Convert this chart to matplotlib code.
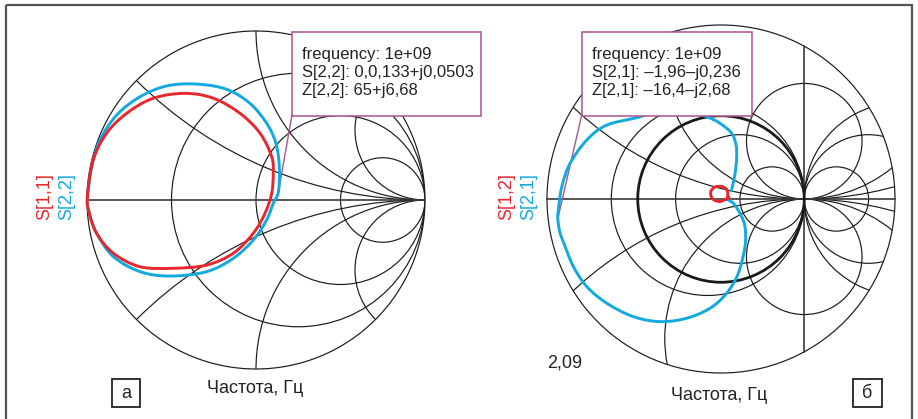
import numpy as np
import matplotlib
matplotlib.use("Agg")
import matplotlib.pyplot as plt
from matplotlib.patches import Circle, Rectangle, PathPatch
from matplotlib.path import Path

plt.rcParams['font.family'] = ['Liberation Sans', 'DejaVu Sans']

# ---- data: reflection / transmission loci (real, imag) ----
s11_re = [-0.998, -0.963, -0.884, -0.765, -0.608, -0.420, -0.252, -0.095, 0.024, 0.093,
          0.102, 0.093, 0.053, -0.016, -0.134, -0.292, -0.489, -0.686, -0.844, -0.943,
          -0.986]
s11_im = [0.020, 0.237, 0.395, 0.513, 0.602, 0.631, 0.602, 0.513, 0.395, 0.256,
          0.158, 0.040, -0.079, -0.197, -0.315, -0.385, -0.404, -0.395, -0.315, -0.197,
          -0.079]

s22_re = [-0.998, -0.972, -0.923, -0.824, -0.686, -0.528, -0.351, -0.174, -0.036, 0.063,
          0.118, 0.138, 0.133, 0.102, 0.063, -0.016, -0.134, -0.292, -0.509, -0.686,
          -0.844, -0.943, -0.986]
s22_im = [0.000, 0.197, 0.355, 0.503, 0.611, 0.675, 0.686, 0.655, 0.572, 0.454,
          0.335, 0.197, 0.050, -0.020, -0.118, -0.237, -0.345, -0.424, -0.450, -0.424,
          -0.335, -0.197, -0.079]

s21_re = [0.125, 0.168, 0.188, 0.180, 0.128, -0.012, -0.172, -0.450, -0.700, -0.972,
          -1.372, -1.612, -1.813, -1.912, -1.950, -1.960, -1.935, -1.880, -1.773, -1.612,
          -1.372, -1.053, -0.732, -0.412, -0.132, 0.068, 0.208, 0.288, 0.288, 0.228,
          0.148, 0.068]
s21_im = [0.100, 0.300, 0.500, 0.650, 0.789, 0.909, 0.988, 1.070, 1.100, 0.988,
          0.888, 0.708, 0.428, 0.148, -0.100, -0.236, -0.400, -0.550, -0.812, -1.052,
          -1.252, -1.413, -1.473, -1.432, -1.312, -1.132, -0.892, -0.572, -0.332, -0.172,
          -0.052, -0.004]

s12_re = [0.084, 0.072, 0.012, -0.072, -0.120, -0.120, -0.084, -0.012, 0.048, 0.096]
s12_im = [0.024, 0.108, 0.150, 0.144, 0.096, 0.036, -0.012, -0.030, -0.006, 0.012]

# marker readouts at 1 GHz
marker_s22 = (0.133, 0.0503)
marker_s21 = (-1.96, -0.236)
marker_text_left = ["frequency: 1e+09", "S[2,2]: 0,0,133+j0,0503", "Z[2,2]: 65+j6,68"]
marker_text_right = ["frequency: 1e+09", "S[2,1]: \u20131,96\u2013j0,236", "Z[2,1]: \u201316,4\u2013j2,68"]

# chart radius limits
limit_left = 1.0
limit_right = 2.09
limit_label = "2,09"
x_label = "Частота, Гц"

RED = '#e8262d'
BLUE = '#12a8e0'
PURPLE = '#a8538f'
GRID = '#1a1a1a'

W, H = 918, 419
fig = plt.figure(figsize=(W / 100, H / 100), dpi=100)


def chart_axes(cx, cy, scale, x0, x1):
    ax = fig.add_axes([x0 / W, 0, (x1 - x0) / W, 1])
    ax.set_xlim((x0 - cx) / scale, (x1 - cx) / scale)
    ax.set_ylim((cy - H) / scale, cy / scale)
    ax.axis('off')
    return ax


def smooth_trace(ax, re, im, closed, **kw):
    """Draw a locus as a smooth Bezier path passing through every sample."""
    p = np.column_stack([re, im]).astype(float)
    n = len(p)
    if closed:
        ext = np.vstack([p[-1:], p, p[:2]])
        segs = n
    else:
        ext = np.vstack([p[:1], p, p[-1:]])
        segs = n - 1
    verts = [ext[1]]
    codes = [Path.MOVETO]
    for i in range(1, segs + 1):
        a, b, c, d = ext[i - 1], ext[i], ext[i + 1], ext[i + 2]
        verts += [b + (c - a) / 6.0, c - (d - b) / 6.0, c]
        codes += [Path.CURVE4] * 3
    patch = PathPatch(Path(verts, codes), fill=False, capstyle='round',
                      joinstyle='round', **kw)
    ax.add_patch(patch)


def smith_grid(ax, up):
    lw = 0.85
    clip = Circle((0, 0), up, transform=ax.transData, fill=False, lw=0)

    def clipped_circle(c, r):
        p = Circle(c, r, fill=False, edgecolor=GRID, lw=lw, zorder=1)
        ax.add_patch(p)
        p.set_clip_path(clip)

    ax.add_patch(Circle((0, 0), up, fill=False, edgecolor=GRID, lw=lw, zorder=1))
    # constant-resistance circles
    for m in range(1, 4):
        g = m * (up + 1.0) / 4.0 - up
        d = 1.0 - g
        clipped_circle((g + d / 2, 0), d / 2)
        if up > 1.0:
            clipped_circle((1.0 + d / 2, 0), d / 2)
    # constant-reactance circles
    for m in range(1, 4):
        t = np.pi * m / 4.0
        r = (1.0 - np.cos(t)) / np.sin(t) * up ** 0.7
        clipped_circle((1.0, r), r)
        clipped_circle((1.0, -r), r)
    ax.plot([-up, up], [0, 0], color='#3a3a3a', lw=1.2, zorder=1)
    if up > 1.0:
        ax.add_patch(Circle((0, 0), 1.0, fill=False, edgecolor=GRID, lw=2.0, zorder=1.5))
        h = np.sqrt(up * up - 1.0)
        ax.plot([1, 1], [-h, h], color='#3a3a3a', lw=1.2, zorder=1)


# left chart
cxL, cyL, scL = 256, 200, 169.0
axL = chart_axes(cxL, cyL, scL, 0, 459)
smith_grid(axL, limit_left)
bxL, byL = (292 - cxL) / scL, (cyL - 115) / scL
axL.plot([bxL, marker_s22[0]], [byL, marker_s22[1]], color=PURPLE, lw=1.0, zorder=2)
smooth_trace(axL, s22_re, s22_im, True, edgecolor=BLUE, lw=2.1, zorder=3)
smooth_trace(axL, s11_re, s11_im, True, edgecolor=RED, lw=2.1, zorder=4)

# right chart
cxR, cyR = 721, 199
scR = 174.0 / limit_right
axR = chart_axes(cxR, cyR, scR, 459, 918)
smith_grid(axR, limit_right)
bxR, byR = (581.7 - cxR) / scR, (cyR - 115) / scR
axR.plot([bxR, marker_s21[0]], [byR, marker_s21[1]], color=PURPLE, lw=1.0, zorder=2)
smooth_trace(axR, s21_re, s21_im, False, edgecolor=BLUE, lw=2.1, zorder=3)
smooth_trace(axR, s12_re, s12_im, True, edgecolor=RED, lw=2.1, zorder=4)

# overlay for frame, readout boxes and labels
ov = fig.add_axes([0, 0, 1, 1])
ov.set_xlim(0, W)
ov.set_ylim(H, 0)
ov.axis('off')
ov.set_zorder(5)

ov.add_patch(Rectangle((6, 5), 906, 425, fill=False, edgecolor='#555555', lw=1.6))

for (x0, x1), lines in (((292, 481), marker_text_left), ((582, 752), marker_text_right)):
    ov.add_patch(Rectangle((x0, 32), x1 - x0, 84, facecolor='white', edgecolor=PURPLE, lw=1.1))
    for i, s in enumerate(lines):
        ov.text(x0 + 10, 55 + 18 * i, s, fontsize=12, color='#222222', va='center', ha='left')

ov.text(45, 197, "S[1,1]", rotation=90, fontsize=13, color=RED, ha='center', va='center')
ov.text(67, 197, "S[2,2]", rotation=90, fontsize=13, color=BLUE, ha='center', va='center')
ov.text(507, 197, "S[1,2]", rotation=90, fontsize=13, color=RED, ha='center', va='center')
ov.text(529, 197, "S[2,1]", rotation=90, fontsize=13, color=BLUE, ha='center', va='center')

ov.text(255, 388, x_label, fontsize=13, color='#222222', ha='center', va='center')
ov.text(719, 395, x_label, fontsize=13, color='#222222', ha='center', va='center')
ov.text(565, 363, limit_label, fontsize=13, color='#222222', ha='center', va='center')

for (x0, x1), s in (((112, 140), "а"), ((853, 882), "б")):
    ov.add_patch(Rectangle((x0, 379), x1 - x0, 28, fill=False, edgecolor='#222222', lw=1.3))
    ov.text((x0 + x1) / 2, 393, s, fontsize=13, color='#222222', ha='center', va='center')

fig.savefig("out.png", dpi=100, facecolor='white')
